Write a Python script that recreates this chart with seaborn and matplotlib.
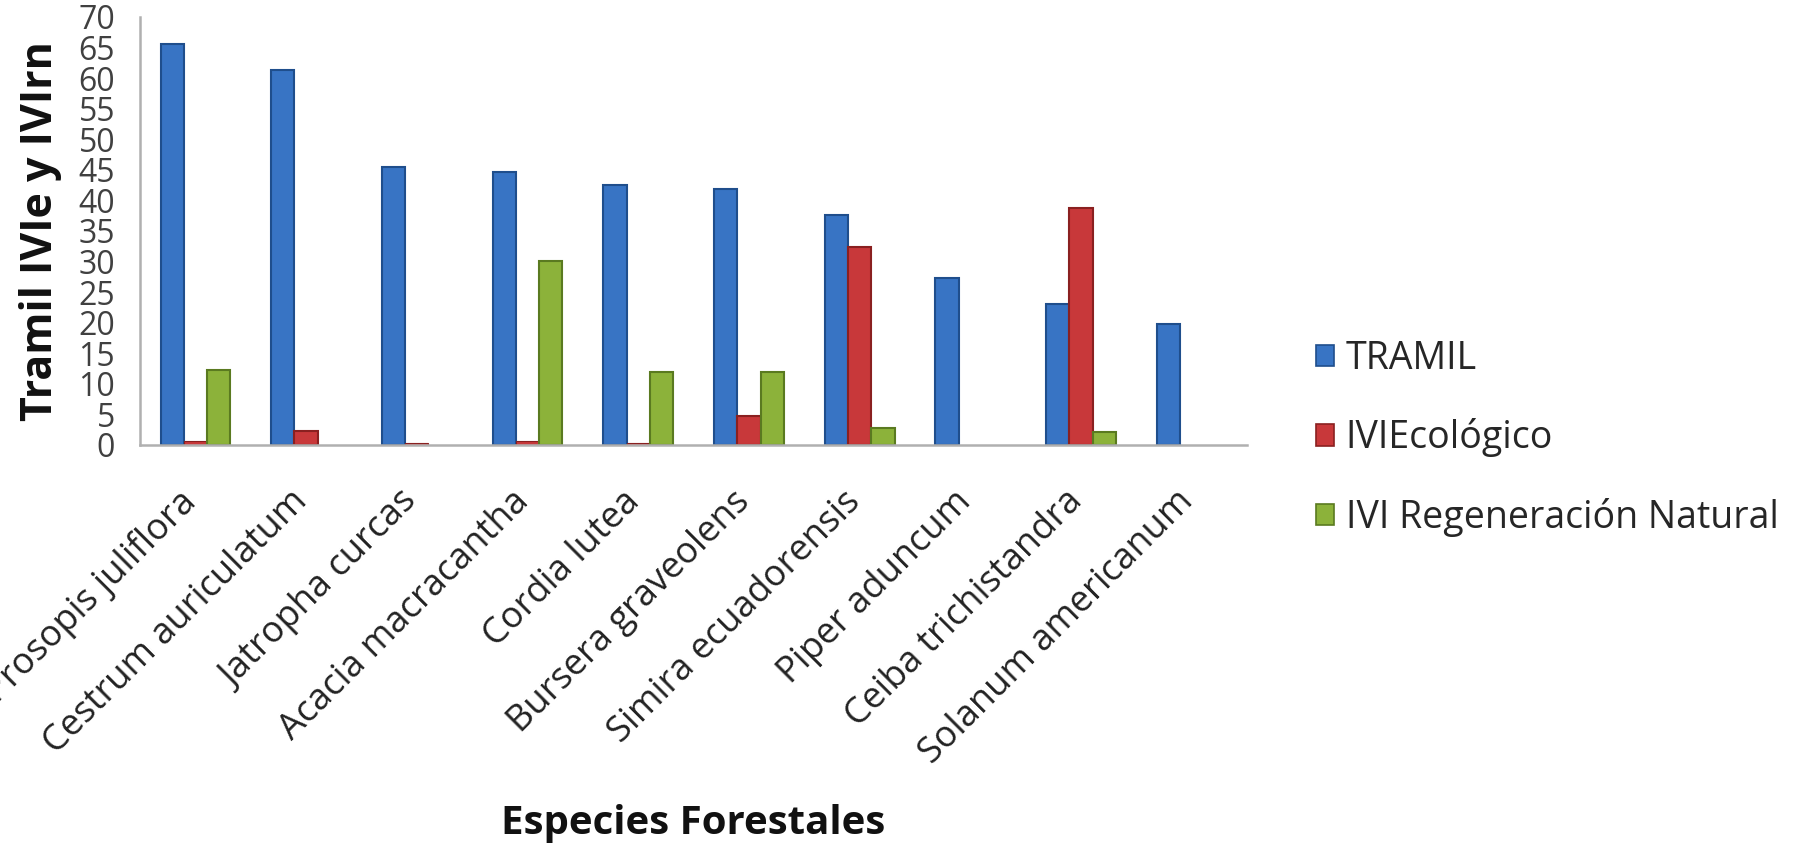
import matplotlib
matplotlib.use("Agg")
import matplotlib.pyplot as plt
import matplotlib.transforms as mtransforms
import seaborn as sns
import pandas as pd
import numpy as np
from matplotlib.patches import Patch

especies = ["Prosopis juliflora", "Cestrum auriculatum", "Jatropha curcas",
            "Acacia macracantha", "Cordia lutea", "Bursera graveolens",
            "Simira ecuadorensis", "Piper aduncum", "Ceiba trichistandra",
            "Solanum americanum"]
tramil = [65.5, 61.3, 45.4, 44.7, 42.5, 41.8, 37.6, 27.3, 23.0, 19.8]
ivi_ecologico = [0.6, 2.3, 0.4, 0.6, 0.4, 4.8, 32.3, 0.0, 38.7, 0.0]
ivi_regeneracion = [12.3, 0.0, 0.0, 30.1, 12.0, 12.0, 2.7, 0.0, 2.1, 0.0]
series = ["TRAMIL", "IVIEcológico", "IVI Regeneración Natural"]
yticks = list(range(0, 75, 5))

colors = ["#3874C4", "#C8383A", "#8CB23A"]
edges = ["#1F4E8C", "#8A2020", "#5A7A20"]

df = pd.DataFrame({
    "especie": especies * 3,
    "valor": tramil + ivi_ecologico + ivi_regeneracion,
    "serie": [series[0]] * len(especies) + [series[1]] * len(especies) + [series[2]] * len(especies),
})

sns.set_style("white")
plt.rcParams["font.family"] = ["Open Sans", "DejaVu Sans"]

fig = plt.figure(figsize=(17.98, 8.46), dpi=100)
ax = fig.add_axes([0.0779, 0.474, 0.6157, 0.506])

sns.barplot(data=df, x="especie", y="valor", hue="serie", order=especies,
            hue_order=series, palette=colors, saturation=1, width=0.63,
            dodge=True, ax=ax, legend=False, errorbar=None)

# edge colours per series; hide empty bars
for container, ec in zip(ax.containers, edges):
    for bar in container:
        bar.set_edgecolor(ec)
        if bar.get_height() <= 0:
            bar.set_visible(False)
        else:
            bar.set_linewidth(1.5 if bar.get_height() > 1 else 0.8)

ax.set_xlim(-0.5, len(especies) - 0.5)
ax.set_ylim(0, 70)
ax.set_yticks(yticks)
ax.set_yticklabels([str(t) for t in yticks], fontsize=23, color="#404040")
ax.tick_params(axis="y", length=10, width=1.5, color="#B0B0B0", pad=8)

ax.set_xticks(range(len(especies)))
ax.set_xticklabels(especies, rotation=45, ha="right", va="center",
                   rotation_mode="anchor", fontsize=26, color="#222222")
ax.tick_params(axis="x", which="major", length=0, pad=37)
offset = mtransforms.ScaledTranslation(-4 / 100, 0, fig.dpi_scale_trans)
for lbl in ax.get_xticklabels():
    lbl.set_transform(lbl.get_transform() + offset)
ax.set_xticks(np.arange(-0.5, len(especies), 1.0), minor=True)
ax.tick_params(axis="x", which="minor", length=12, width=1.5, color="#B0B0B0")

for s in ["top", "right"]:
    ax.spines[s].set_visible(False)
for s in ["left", "bottom"]:
    ax.spines[s].set_color("#B0B0B0")
    ax.spines[s].set_linewidth(1.8)

ax.set_xlabel("Especies Forestales", fontsize=29, fontweight="bold",
              color="#111111", va="center")
ax.set_ylabel("Tramil IVIe y IVIrn", fontsize=31, fontweight="bold",
              color="#111111", va="center")
ax.xaxis.set_label_coords(0.5, -0.885)
ax.yaxis.set_label_coords(-0.09, 0.5)

handles = [Patch(facecolor=c, edgecolor=e, linewidth=1.2) for c, e in zip(colors, edges)]
fig.legend(handles, series, loc="center left", bbox_to_anchor=(0.713, 0.482),
           frameon=False, fontsize=27, handlelength=0.5, handleheight=0.5,
           handletextpad=0.3, labelspacing=1.08)

fig.savefig("out.png", dpi=100)
